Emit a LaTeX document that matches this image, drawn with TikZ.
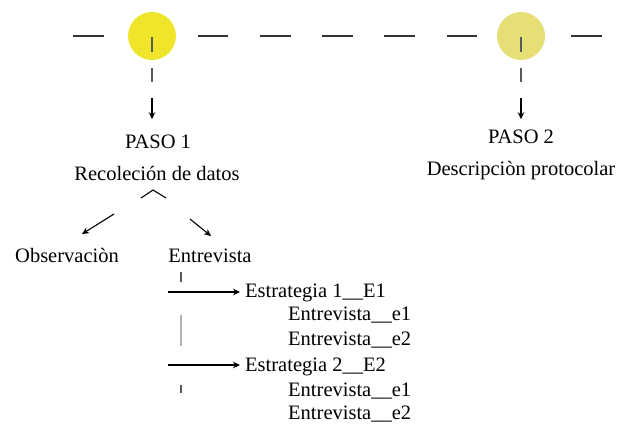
\documentclass[tikz,border=0pt]{standalone}
\usepackage{fontspec}
\newfontfamily\fa{Liberation Serif}
\usetikzlibrary{arrows.meta}
\begin{document}
\begin{tikzpicture}[x=1pt,y=-1pt,
  txt/.style={font=\fa\fontsize{20.5}{24}\selectfont, inner sep=0pt},
  dashseg/.style={draw=black!80, line width=1.4pt},
  tick/.style={draw=black!65, line width=1.4pt},
  faint/.style={draw=black!30, line width=1.4pt},
  arr/.style={draw=black, line width=1.1pt, -{Stealth[length=7pt,width=6.5pt]}},
  dot/.style={circle, minimum size=48pt, inner sep=0pt}
]
\useasboundingbox (0,0) rectangle (629,424);
% timeline
\foreach \a/\b in {73/104,198/228,260/291,322/353,384/415,447/477,571/602}
  \draw[dashseg] (\a,36) -- (\b,36);
\node[dot, fill={rgb,255:red,240;green,229;blue,42}] (c1) at (152,36) {};
\node[dot, fill={rgb,255:red,229;green,223;blue,118}] (c2) at (521,36) {};
% step 1
\draw[tick] (c1.center) ++(0,1) -- ++(0,15);
\draw[tick] (152,68) -- (152,82);
\coordinate (a1) at (152,98);
\node[txt, anchor=base] (p1) at (158,148) {PASO 1};
\node[txt, anchor=base] (r1) at (157,180) {Recoleción de datos};
\draw[arr, shorten >=15pt] (a1) -- (a1 |- p1.north);
% step 2
\draw[tick] (c2.center) ++(0,1) -- ++(0,15);
\draw[tick] (521,68) -- (521,82);
\coordinate (a2) at (521,98);
\node[txt, anchor=base] (p2) at (521,143) {PASO 2};
\node[txt, anchor=base] (r2) at (521,175) {Descripciòn protocolar};
\draw[arr, shorten >=10pt] (a2) -- (a2 |- p2.north);
% branch
\coordinate (k1) at (141,198);
\coordinate (k2) at (153,190);
\coordinate (k3) at (166,198);
\draw[black, line width=1.1pt] (k1) -- (k2) -- (k3);
\node[txt, anchor=base] (obs) at (67,262) {Observaciòn};
\node[txt, anchor=base] (ent) at (210,262) {Entrevista};
\coordinate (bl) at (114,214);
\coordinate (br) at (190,219);
\draw[arr] (bl) -- (82,234);
\draw[arr] (br) -- (211,236);
% strategies
\draw[tick] (181,272) -- (181,282);
\node[txt, anchor=base west] (s1) at (245,297) {Estrategia 1\_\_E1};
\node[txt, anchor=base west] (s1a) at (288,320) {Entrevista\_\_e1};
\node[txt, anchor=base west] (s1b) at (288,345) {Entrevista\_\_e2};
\coordinate (f1) at (168,292);
\draw[arr, shorten >=5pt] (f1) -- (f1 -| s1.west);
\draw[faint] (181,315) -- (181,346);
\node[txt, anchor=base west] (s2) at (245,371) {Estrategia 2\_\_E2};
\node[txt, anchor=base west] (s2a) at (288,396) {Entrevista\_\_e1};
\node[txt, anchor=base west] (s2b) at (288,419) {Entrevista\_\_e2};
\coordinate (f2) at (168,365);
\draw[arr, shorten >=5pt] (f2) -- (f2 -| s2.west);
\draw[tick] (181,385) -- (181,393);
\end{tikzpicture}
\end{document}
